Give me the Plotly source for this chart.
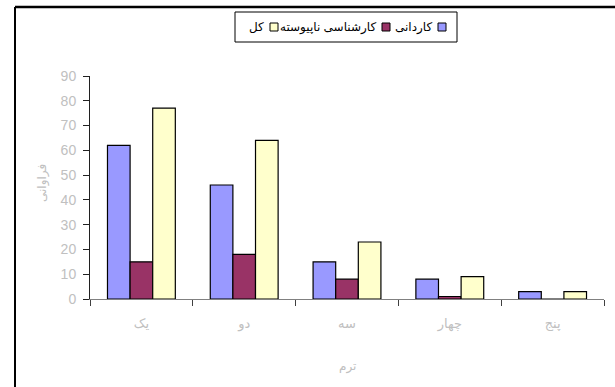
import plotly.graph_objects as go

# Terms (categories) and frequencies per programme
terms = ["یک", "دو", "سه", "چهار", "پنج"]
series_names = ["کاردانی", "کارشناسی ناپیوسته", "کل"]
kardani = [62, 46, 15, 8, 3]
karshenasi = [15, 18, 8, 1, 0]
kol = [77, 64, 23, 9, 3]
colors = ["#9999FF", "#993366", "#FFFFCC"]

FONT = "Arial, Liberation Sans, DejaVu Sans, sans-serif"
GRAY = "#C0C0C0"

fig = go.Figure()
for name, vals, col in zip(series_names, [kardani, karshenasi, kol], colors):
    fig.add_trace(go.Bar(
        x=terms, y=vals, name=name,
        marker=dict(color=col, line=dict(color="#000000", width=1.2)),
        showlegend=False,
    ))

# plot-area geometry in pixels (for paper-coordinate helpers)
L, R, T, B = 90, 604, 76, 299
W, H = R - L, B - T


def px(x):
    return (x - L) / W


def py(y):
    return (B - y) / H


shapes = []
annotations = []

# outer frame (left and top edges)
shapes.append(dict(type="line", xref="paper", yref="paper",
                   x0=px(15), y0=py(387), x1=px(15), y1=py(7),
                   line=dict(color="#000000", width=2)))
shapes.append(dict(type="line", xref="paper", yref="paper",
                   x0=px(15), y0=py(7), x1=px(615), y1=py(7),
                   line=dict(color="#000000", width=2.5)))

# legend box, laid out right to left (swatch to the right of its label)
shapes.append(dict(type="rect", xref="paper", yref="paper",
                   x0=px(235), y0=py(42), x1=px(457), y1=py(12),
                   line=dict(color="#000000", width=1), fillcolor="#FFFFFF"))
legend_items = [  # (swatch right edge, label right edge)
    (446, 434),
    (390, 378),
    (278, 266),
]
for (sq_r, tx_r), name, col in zip(legend_items, series_names, colors):
    shapes.append(dict(type="rect", xref="paper", yref="paper",
                       x0=px(sq_r - 8), y0=py(31), x1=px(sq_r), y1=py(23),
                       line=dict(color="#000000", width=1), fillcolor=col))
    annotations.append(dict(text=name, xref="paper", yref="paper",
                            x=px(tx_r), y=py(27), xanchor="right", yanchor="middle",
                            showarrow=False,
                            font=dict(family=FONT, size=12, color="#000000")))

# axis titles
annotations.append(dict(text="ترم", xref="paper", yref="paper",
                        x=0.5, y=py(366), xanchor="center", yanchor="middle",
                        showarrow=False, font=dict(family=FONT, size=12, color=GRAY)))
annotations.append(dict(text="فراوانی", xref="paper", yref="paper",
                        x=px(42), y=0.52, xanchor="center", yanchor="middle",
                        textangle=-90, showarrow=False,
                        font=dict(family=FONT, size=12, color=GRAY)))

fig.update_layout(
    width=615, height=387,
    margin=dict(l=L, r=615 - R, t=T, b=387 - B),
    paper_bgcolor="#FFFFFF", plot_bgcolor="#FFFFFF",
    barmode="group", bargap=0.34, bargroupgap=0,
    shapes=shapes, annotations=annotations,
    font=dict(family=FONT),
)
fig.update_xaxes(
    showline=True, linecolor="#808080", linewidth=1,
    ticks="outside", tickson="boundaries", ticklen=6, tickcolor="#404040",
    tickfont=dict(family=FONT, size=13, color=GRAY),
    ticklabelstandoff=12, showgrid=False, zeroline=False,
)
fig.update_yaxes(
    range=[0, 90], dtick=10, showline=True, linecolor="#202020", linewidth=1,
    ticks="outside", ticklen=6, tickcolor="#202020",
    tickfont=dict(family=FONT, size=14, color=GRAY),
    ticklabelstandoff=4, showgrid=False, zeroline=False,
)

fig.write_html("out.html")
